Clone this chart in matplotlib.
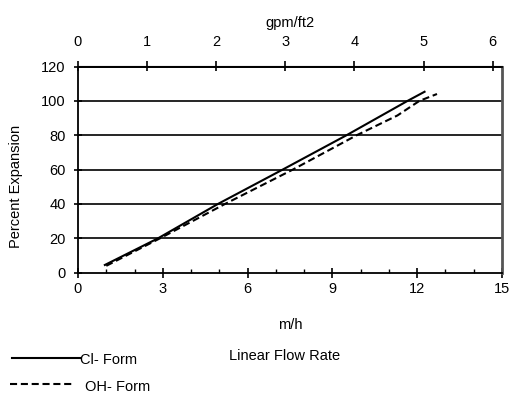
import matplotlib
matplotlib.use("Agg")
import matplotlib.pyplot as plt
from matplotlib.ticker import MultipleLocator
from matplotlib.lines import Line2D

plt.rcParams['font.family'] = ['Liberation Sans', 'DejaVu Sans']

# Data (m/h vs percent expansion)
cl_x = [0.95, 2.83, 4.95, 7.24, 9.5, 11.66, 12.26]
cl_y = [4.5, 20, 40, 60, 80, 100, 105.3]
oh_x = [1.0, 2.9, 5.2, 7.6, 9.86, 11.3, 12.08, 12.7]
oh_y = [4, 20, 40, 60, 80, 91.5, 100, 104]

x_ticks = [0, 3, 6, 9, 12, 15]
y_ticks = [0, 20, 40, 60, 80, 100, 120]
top_ticks = [0, 1, 2, 3, 4, 5, 6]
MH_PER_GPM = 2.445
series_names = ['Cl- Form', 'OH- Form']

FS = 10.5
DASH = (0, (3.4, 1.8))

fig = plt.figure(figsize=(5.13, 3.96), dpi=100)
ax = fig.add_axes([78/513, 1-272.7/396, (502-78)/513, (272.7-66.5)/396])

ax.plot(cl_x, cl_y, color='black', lw=1.5, ls='-', label=series_names[0])
ax.plot(oh_x, oh_y, color='black', lw=1.5, ls=DASH, label=series_names[1])

ax.set_xlim(0, 15)
ax.set_ylim(0, 120)
ax.set_xticks(x_ticks)
ax.set_yticks(y_ticks)
ax.xaxis.set_minor_locator(MultipleLocator(1))
for y in y_ticks[1:]:
    ax.axhline(y, color='black', lw=1.2, zorder=0)

ax.tick_params(axis='x', which='major', direction='inout', length=7, width=1.2, labelsize=FS, pad=3)
ax.tick_params(axis='x', which='minor', direction='in', length=3, width=1)
ax.tick_params(axis='y', which='major', direction='inout', length=6, width=1.2, labelsize=FS, pad=6)

for s in ['left', 'bottom', 'top']:
    ax.spines[s].set_linewidth(1.3)
    ax.spines[s].set_color('black')
ax.spines['right'].set_color('#555555')
ax.spines['right'].set_linewidth(2)

ax.set_xlabel('m/h', fontsize=FS, labelpad=16)
ax.set_ylabel('Percent Expansion', fontsize=FS)
ax.yaxis.set_label_coords((23-78)/424, (272.7-187)/206)

top = ax.secondary_xaxis('top', functions=(lambda x: x / MH_PER_GPM, lambda g: g * MH_PER_GPM))
top.set_xticks(top_ticks)
top.tick_params(direction='inout', length=7, width=1.2, labelsize=FS, pad=9)
top.set_xlabel('gpm/ft2', fontsize=FS, labelpad=6)

fig.text(285/513, 1-356/396, 'Linear Flow Rate', fontsize=FS, ha='center', va='center')

# legend drawn at bottom-left
W, H = 513, 396
fig.add_artist(Line2D([12/W, 80/W], [1-358/H, 1-358/H], transform=fig.transFigure,
                      color='black', lw=1.5, ls='-'))
fig.text(80/W, 1-360/H, series_names[0], fontsize=FS, ha='left', va='center')
fig.add_artist(Line2D([10/W, 74/W], [1-384/H, 1-384/H], transform=fig.transFigure,
                      color='black', lw=1.5, ls=DASH))
fig.text(85/W, 1-387/H, series_names[1], fontsize=FS, ha='left', va='center')

fig.savefig('out.png', dpi=100)
